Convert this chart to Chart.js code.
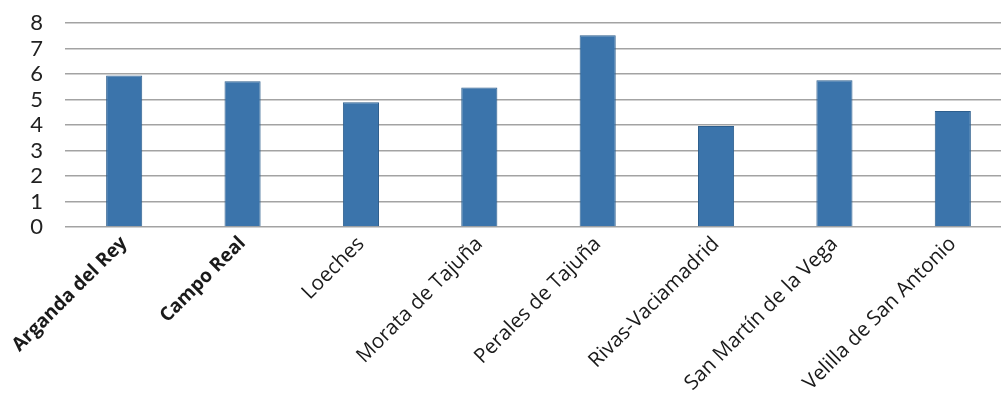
<!DOCTYPE html>
<html>
<head>
<meta charset="utf-8">
<script src="https://cdn.jsdelivr.net/npm/chart.js@4.4.1/dist/chart.umd.min.js"></script>
<style>
    html, body { margin: 0; padding: 0; background: #fff; overflow: hidden; }
    #wrap { width: 1012px; height: 405px; overflow: hidden; }
    #myChart { display: block; margin-top: -12px; }
</style>
</head>
<body>
<div id="wrap"><canvas id="myChart" width="1012" height="417"></canvas></div>
<script>
const municipios = ['Arganda del Rey', 'Campo Real', 'Loeches', 'Morata de Tajuña', 'Perales de Tajuña', 'Rivas-Vaciamadrid', 'San Martín de la Vega', 'Velilla de San Antonio'];
const valores = [5.95, 5.72, 4.9, 5.48, 7.53, 3.96, 5.76, 4.55];
const ticksY = [0, 1, 2, 3, 4, 5, 6, 7, 8];
const destacados = ['Arganda del Rey', 'Campo Real'];

const ctx = document.getElementById('myChart').getContext('2d');
const myChart = new Chart(ctx, {
    type: 'bar',
    data: {
        labels: municipios,
        datasets: [{
            data: valores,
            backgroundColor: '#3b74ab',
            borderColor: '#2d5e8d',
            borderWidth: 1,
            categoryPercentage: 1,
            barPercentage: 0.305
        }]
    },
    options: {
        responsive: false,
        animation: false,
        plugins: { legend: { display: false }, tooltip: { enabled: false } },
        scales: {
            y: {
                min: 0,
                max: 8,
                afterBuildTicks: (scale) => { scale.ticks = ticksY.map(v => ({ value: v })); },
                afterFit: (scale) => { scale.width = 65; },
                border: { display: false },
                grid: { color: '#a3a3a3', lineWidth: 1.5, drawTicks: false },
                ticks: {
                    color: '#222',
                    autoSkip: false,
                    stepSize: 1,
                    padding: 22,
                    font: { family: 'Lato', size: 22 }
                }
            },
            x: {
                afterFit: (scale) => { scale.height = 178; },
                border: { display: false },
                grid: { display: false },
                ticks: {
                    color: '#1a1a1a',
                    minRotation: 45,
                    maxRotation: 45,
                    autoSkip: false,
                    padding: -3,
                    font: (c) => destacados.includes(municipios[c.index])
                        ? { family: 'Open Sans', size: 19, weight: 'bold' }
                        : { family: 'Open Sans', size: 20.5 }
                }
            }
        }
    }
});
</script>
</body>
</html>
